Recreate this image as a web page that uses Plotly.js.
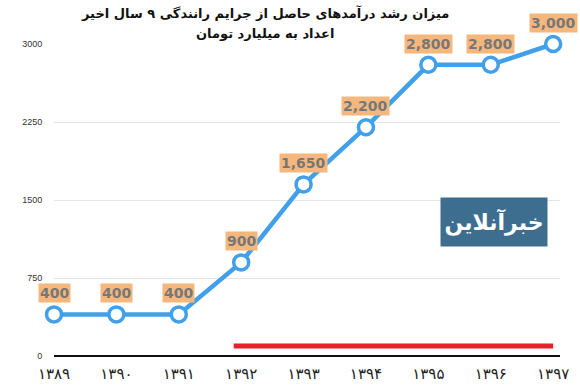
<!DOCTYPE html>
<html><head><meta charset="utf-8">
<script src="https://cdn.plot.ly/plotly-3.0.1.min.js"></script>
<style>html,body{margin:0;padding:0;background:#fff}</style>
</head><body><div id="chart" style="width:580px;height:388px"></div>
<script>
const years = [1389, 1390, 1391, 1392, 1393, 1394, 1395, 1396, 1397];
const yearLabels = ['۱۳۸۹','۱۳۹۰','۱۳۹۱','۱۳۹۲','۱۳۹۳','۱۳۹۴','۱۳۹۵','۱۳۹۶','۱۳۹۷'];
const revenue = [400, 400, 400, 900, 1650, 2200, 2800, 2800, 3000];
const valueLabels = ['400','400','400','900','1,650','2,200','2,800','2,800','3,000'];
const redLineX = [1391.88, 1397];
const redLineY = [95, 95];
const yTicks = [0, 750, 1500, 2250, 3000];
const titleLines = ['میزان رشد درآمدهای حاصل از جرایم رانندگی ۹ سال اخیر', 'اعداد به میلیارد تومان'];
const logoText = 'خبرآنلاین';

const traces = [
  {x: redLineX, y: redLineY, mode: 'lines', line: {color: '#e8202a', width: 5}, hoverinfo: 'skip', cliponaxis: false},
  {x: years, y: revenue, mode: 'lines+markers', cliponaxis: false,
   line: {color: '#42a0ea', width: 4.5},
   marker: {size: 15, color: '#ffffff', line: {color: '#42a0ea', width: 3.5}}}
];

const annotations = years.map((yr, i) => ({
  x: yr, y: revenue[i], xref: 'x', yref: 'y', text: '<b>' + valueLabels[i] + '</b>',
  showarrow: false, yshift: 21, bgcolor: '#f6b77d', borderpad: 1,
  font: {family: 'DejaVu Sans, Arial', size: 14, color: '#777777'}
}));
annotations.push({
  xref: 'paper', yref: 'paper', x: 0.87, y: 0.43, xanchor: 'center', yanchor: 'middle',
  text: '<b>' + logoText + '</b>',
  showarrow: false, bgcolor: '#3e6e8f', width: 104, height: 46,
  font: {family: 'DejaVu Sans', size: 22, color: '#ffffff'}
});
titleLines.forEach((t, i) => annotations.push({
  xref: 'paper', yref: 'paper', x: 0.417, y: i === 0 ? 1.099 : 1.035,
  xanchor: 'center', yanchor: 'middle', showarrow: false,
  text: '<b>' + t + '</b>',
  font: {family: 'DejaVu Sans', size: 13, color: '#111111'}
}));

const layout = {
  width: 580, height: 388,
  margin: {l: 54, r: 20, t: 44, b: 32},
  paper_bgcolor: '#ffffff', plot_bgcolor: '#ffffff',
  showlegend: false,
  xaxis: {range: [1389, 1397.11], tickvals: years, ticktext: yearLabels,
          showgrid: false, zeroline: false, showline: false,
          ticks: 'outside', ticklen: 4, tickcolor: 'rgba(0,0,0,0)',
          tickfont: {family: 'DejaVu Sans', size: 15, color: '#222222'}},
  yaxis: {range: [0, 3000], tickvals: yTicks, ticktext: yTicks.map(String),
          showgrid: true, gridcolor: '#e4e4e4', gridwidth: 1,
          zeroline: true, zerolinecolor: '#111111', zerolinewidth: 2,
          ticks: 'outside', ticklen: 9, tickcolor: 'rgba(0,0,0,0)',
          tickfont: {family: 'Liberation Sans, Arial', size: 9, color: '#333333'}},
  annotations: annotations
};
Plotly.newPlot('chart', traces, layout, {displayModeBar: false, staticPlot: true});
</script></body></html>
